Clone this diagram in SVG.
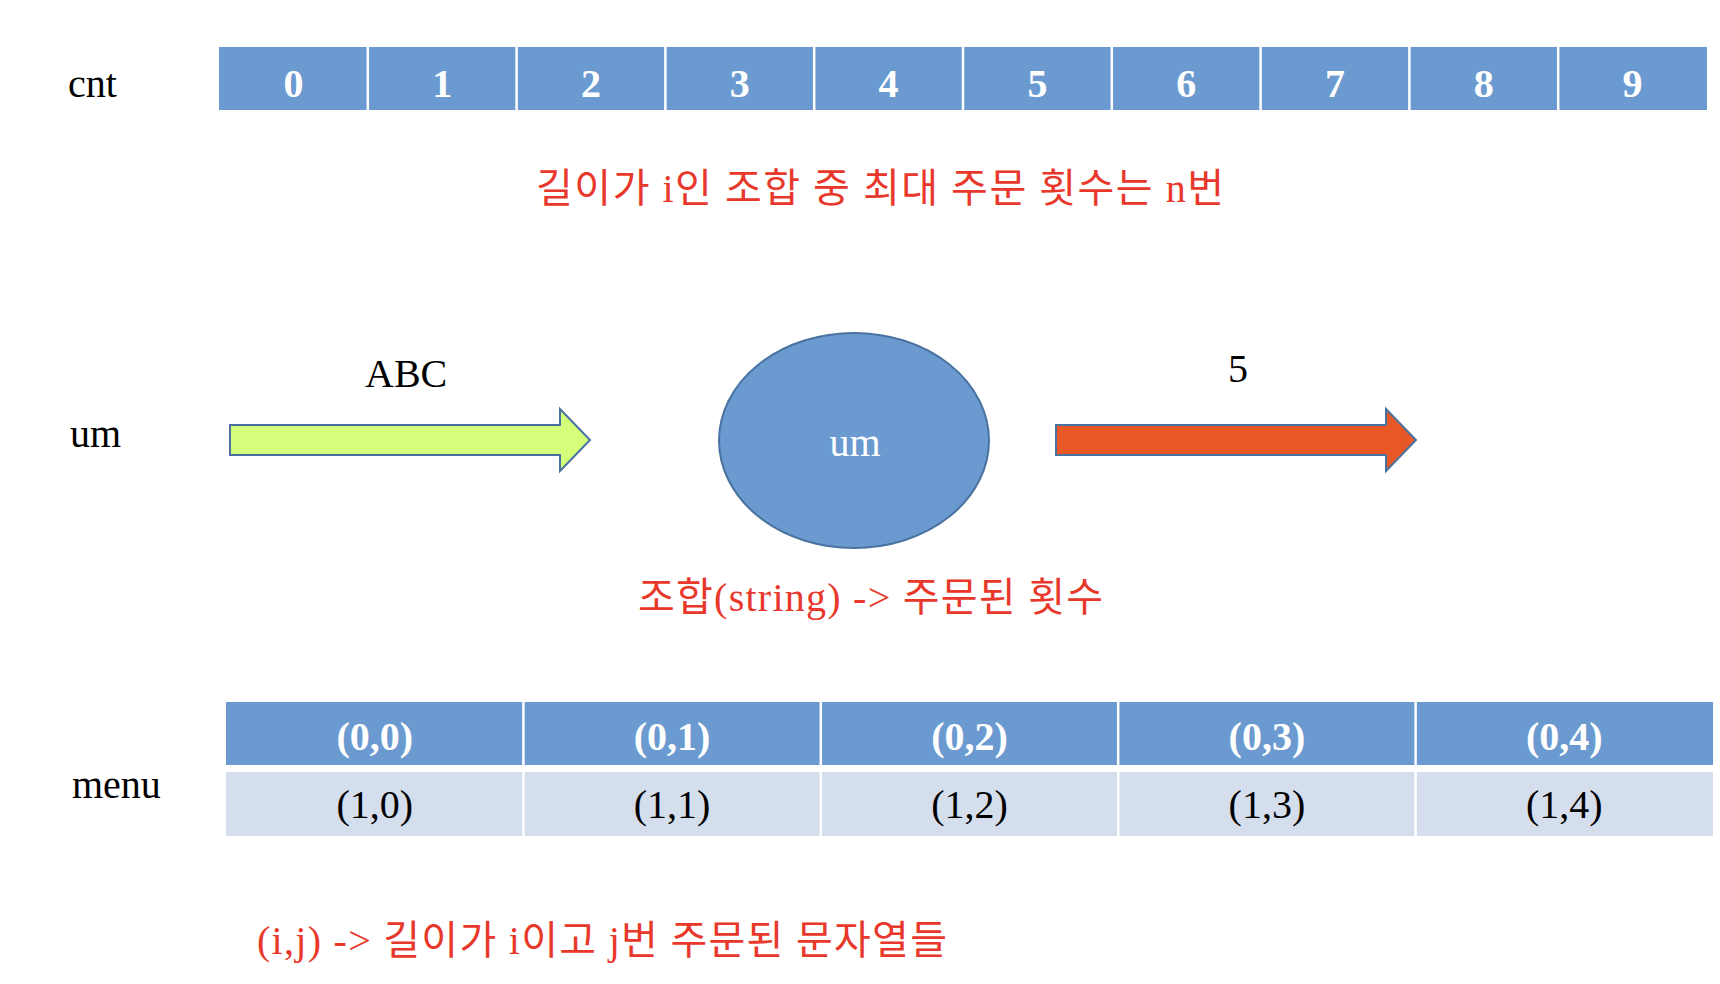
<svg xmlns="http://www.w3.org/2000/svg" width="1720" height="984" viewBox="0 0 1720 984">
<style>
.lbl{font-family:"Liberation Serif","Times New Roman",serif;font-size:40px;fill:#000}
.hd{font-family:"Liberation Serif","Times New Roman",serif;font-size:40px;font-weight:bold;fill:#fff;text-anchor:middle}
.cell{font-family:"Liberation Serif","Times New Roman",serif;font-size:40px;fill:#000;text-anchor:middle}
.note{font-family:"Liberation Serif","Noto Sans CJK KR",serif;font-size:40px;fill:#e8382b}
.blue{fill:#6a9ad0}
.light{fill:#d4deed}
.div{stroke:#fff;stroke-width:2.5}
.shape{stroke:#4a72a0;stroke-width:2}
</style>
<rect width="1720" height="984" fill="#fff"/>

<g id="cnt">
<text class="lbl" x="68" y="97">cnt</text>
<rect class="blue" x="219" y="47" width="1488" height="63"/>
<g class="div">
<line x1="367.8" y1="47" x2="367.8" y2="110"/>
<line x1="516.6" y1="47" x2="516.6" y2="110"/>
<line x1="665.4" y1="47" x2="665.4" y2="110"/>
<line x1="814.2" y1="47" x2="814.2" y2="110"/>
<line x1="963" y1="47" x2="963" y2="110"/>
<line x1="1111.8" y1="47" x2="1111.8" y2="110"/>
<line x1="1260.6" y1="47" x2="1260.6" y2="110"/>
<line x1="1409.4" y1="47" x2="1409.4" y2="110"/>
<line x1="1558.2" y1="47" x2="1558.2" y2="110"/>
</g>
<text class="hd" x="293.4" y="97">0</text>
<text class="hd" x="442.2" y="97">1</text>
<text class="hd" x="591" y="97">2</text>
<text class="hd" x="739.8" y="97">3</text>
<text class="hd" x="888.6" y="97">4</text>
<text class="hd" x="1037.4" y="97">5</text>
<text class="hd" x="1186.2" y="97">6</text>
<text class="hd" x="1335" y="97">7</text>
<text class="hd" x="1483.8" y="97">8</text>
<text class="hd" x="1632.6" y="97">9</text>
</g>

<g id="note-cnt">
<text class="note" x="536" y="202" textLength="688" lengthAdjust="spacing">길이가 i인 조합 중 최대 주문 횟수는 n번</text>
</g>

<g id="um-label">
<text class="lbl" x="70" y="447">um</text>
</g>

<g id="key">
<text class="lbl" x="365" y="387">ABC</text>
</g>

<g id="um">
<ellipse cx="854" cy="440.5" rx="135" ry="107.5" class="shape" fill="#6a9ad0"/>
<text class="lbl" x="855" y="456" text-anchor="middle" style="fill:#fff">um</text>
</g>

<g id="value">
<text class="lbl" x="1238" y="382" text-anchor="middle">5</text>
</g>

<g id="connectors">
<path class="shape" fill="#d5ff7b" d="M230,425 L560,425 L560,409 L590,440 L560,471 L560,455 L230,455 Z"/>
<path class="shape" fill="#e85726" d="M1056,425 L1386,425 L1386,409 L1416,440 L1386,471 L1386,455 L1056,455 Z"/>
</g>

<g id="note-um">
<text class="note" x="638" y="611" textLength="465" lengthAdjust="spacing">조합(string) -&gt; 주문된 횟수</text>
</g>

<g id="menu">
<text class="lbl" x="72" y="798">menu</text>
<rect class="blue" x="226" y="702" width="1487" height="63"/>
<rect class="light" x="226" y="772" width="1487" height="64"/>
<g class="div">
<line x1="523.4" y1="702" x2="523.4" y2="836"/>
<line x1="820.8" y1="702" x2="820.8" y2="836"/>
<line x1="1118.2" y1="702" x2="1118.2" y2="836"/>
<line x1="1415.6" y1="702" x2="1415.6" y2="836"/>
</g>
<text class="hd" x="374.7" y="750">(0,0)</text>
<text class="hd" x="672.1" y="750">(0,1)</text>
<text class="hd" x="969.5" y="750">(0,2)</text>
<text class="hd" x="1266.9" y="750">(0,3)</text>
<text class="hd" x="1564.3" y="750">(0,4)</text>
<text class="cell" x="374.7" y="818">(1,0)</text>
<text class="cell" x="672.1" y="818">(1,1)</text>
<text class="cell" x="969.5" y="818">(1,2)</text>
<text class="cell" x="1266.9" y="818">(1,3)</text>
<text class="cell" x="1564.3" y="818">(1,4)</text>
</g>

<g id="note-menu">
<text class="note" x="257" y="954" textLength="690" lengthAdjust="spacing">(i,j) -&gt; 길이가 i이고 j번 주문된 문자열들</text>
</g>
</svg>
